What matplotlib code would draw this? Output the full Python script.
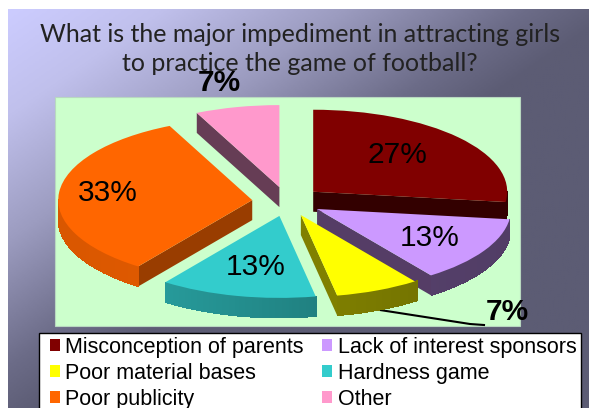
import numpy as np
import matplotlib
matplotlib.use("Agg")
import matplotlib.pyplot as plt
from matplotlib.colors import LinearSegmentedColormap, to_rgb
from matplotlib.patches import Rectangle

categories = ["Misconception of parents", "Lack of interest sponsors", "Poor material bases",
              "Hardness game", "Poor publicity", "Other"]
values = [27, 13, 7, 13, 33, 7]
title_lines = ["What is the major impediment in attracting girls", "to practice the game of football?"]

colors = ["#800000", "#CC99FF", "#FFFF00", "#33CCCC", "#FF6600", "#FF99CC"]
cut_colors = ["#330000", "#553D66", "#808000", "#147070", "#993D00", "#663D55"]
# brightness of the rim at its left and right end
rim_shades = [(0.4, 0.4), (0.45, 0.4), (0.6, 0.42), (0.82, 0.5), (0.85, 0.95), (0.4, 0.4)]

W, H = 589, 408
CX, CY, RX, RY = 287, 201.5, 194, 82   # pie centre and radii in pixels
DEPTH = 20 / RY
EXPLODE = 0.18
label_xy = [(397, 155), (430, 238), (507, 312), (256, 267), (108, 193), (219, 83)]


def px(x, y):
    return (x - CX) / RX, (CY - y) / RY


fig = plt.figure(figsize=(W / 100, H / 100), dpi=100, facecolor="white")

# slide background
bg = fig.add_axes([0, 0, 1, 1])
bg.set_xlim(0, W)
bg.set_ylim(H, 0)
bg.axis("off")
xx, yy = np.meshgrid(np.linspace(0, 1, 300), np.linspace(0, 1, 200))
cmap = LinearSegmentedColormap.from_list("slide", [(0, "#CCCCFF"), (0.25, "#C0C0EC"), (0.55, "#9C9CC0"),
                                                   (0.85, "#6C6C88"), (1, "#5C5C74")])
bg.imshow(np.clip(xx * 0.95 + yy * 0.95, 0, 1), extent=(8, W, H, 9), cmap=cmap, vmin=0, vmax=1, aspect="auto")
bg.add_patch(Rectangle((55, 97), 465, 229, facecolor="#CCFFCC", edgecolor="#B8D8C0", linewidth=0.8))
bg.add_patch(Rectangle((39, 333), 542, 90, facecolor="white", edgecolor="black", linewidth=1.0))

for i, line in enumerate(title_lines):
    bg.text(300, 35 + i * 28.5, line, ha="center", va="center", fontsize=18, family="Lato", color="#222222")

# exploded pie, squashed by the axis limits
ax = fig.add_axes([0, 0, 1, 1])
ax.patch.set_visible(False)
wedges, _ = ax.pie(values, colors=colors, startangle=90, counterclock=False, explode=[EXPLODE] * len(values))
ax.set_aspect("auto")
ax.set_xlim((0 - CX) / RX, (W - CX) / RX)
ax.set_ylim((CY - H) / RY, CY / RY)

# back slices first so the nearer ones cover them
order = sorted(range(len(wedges)), key=lambda k: -wedges[k].center[1])
for z, k in enumerate(order):
    w = wedges[k]
    base = 2 + z * 2
    w.set_zorder(base + 1)
    w.set_linewidth(0)
    x0, y0 = w.center
    for theta, normal in ((w.theta1, w.theta1 - 90), (w.theta2, w.theta2 + 90)):
        if np.sin(np.radians(normal)) < 0:
            ex = x0 + np.cos(np.radians(theta))
            ey = y0 + np.sin(np.radians(theta))
            ax.fill([x0, ex, ex, x0], [y0, ey, ey - DEPTH, y0 - DEPTH],
                    color=cut_colors[k], linewidth=0, zorder=base)
    angles = np.radians(np.arange(w.theta1, w.theta2 + 1, 1.0))
    angles = angles[np.sin(angles) < 0.02]
    left, right = rim_shades[k]
    for a, b in zip(angles[:-1], angles[1:]):
        t = (np.cos(a) + 1) / 2
        c = np.array(to_rgb(colors[k])) * (left + (right - left) * t)
        xa, xb = x0 + np.cos(a), x0 + np.cos(b)
        ya, yb = y0 + np.sin(a), y0 + np.sin(b)
        # no edge and no antialiasing, otherwise the strips show seams
        ax.fill([xa, xb, xb, xa], [ya, yb, yb - DEPTH, ya - DEPTH], color=c, linewidth=0,
                antialiased=False, zorder=base)

for v, (lx, ly) in zip(values, label_xy):
    tx, ty = px(lx, ly)
    ax.text(tx, ty, f"{v}%", ha="center", va="center", fontsize=21.5, family="Liberation Sans",
            fontweight="bold" if v == 7 else "normal", color="black", zorder=30)

# leader for the small yellow slice
lead = np.array([px(380, 310), px(470, 324), px(484, 325)])
ax.plot(lead[:, 0], lead[:, 1], color="black", linewidth=1.5, zorder=1)

# legend reads row by row, matplotlib fills by column
handles = [Rectangle((0, 0), 1, 1, facecolor=c, edgecolor="none") for c in colors]
idx = [0, 2, 4, 1, 3, 5]
leg = fig.legend([handles[i] for i in idx], [categories[i] for i in idx], ncol=2,
                 loc="upper left", bbox_to_anchor=(50 / W, 1 - 336.5 / H), borderaxespad=0,
                 frameon=False, prop={"family": "Liberation Sans", "size": 15.5},
                 handlelength=0.47, handleheight=0.47, handletextpad=0.24,
                 labelspacing=0.24, columnspacing=0.86, borderpad=0)

fig.savefig("out.png", dpi=100)
